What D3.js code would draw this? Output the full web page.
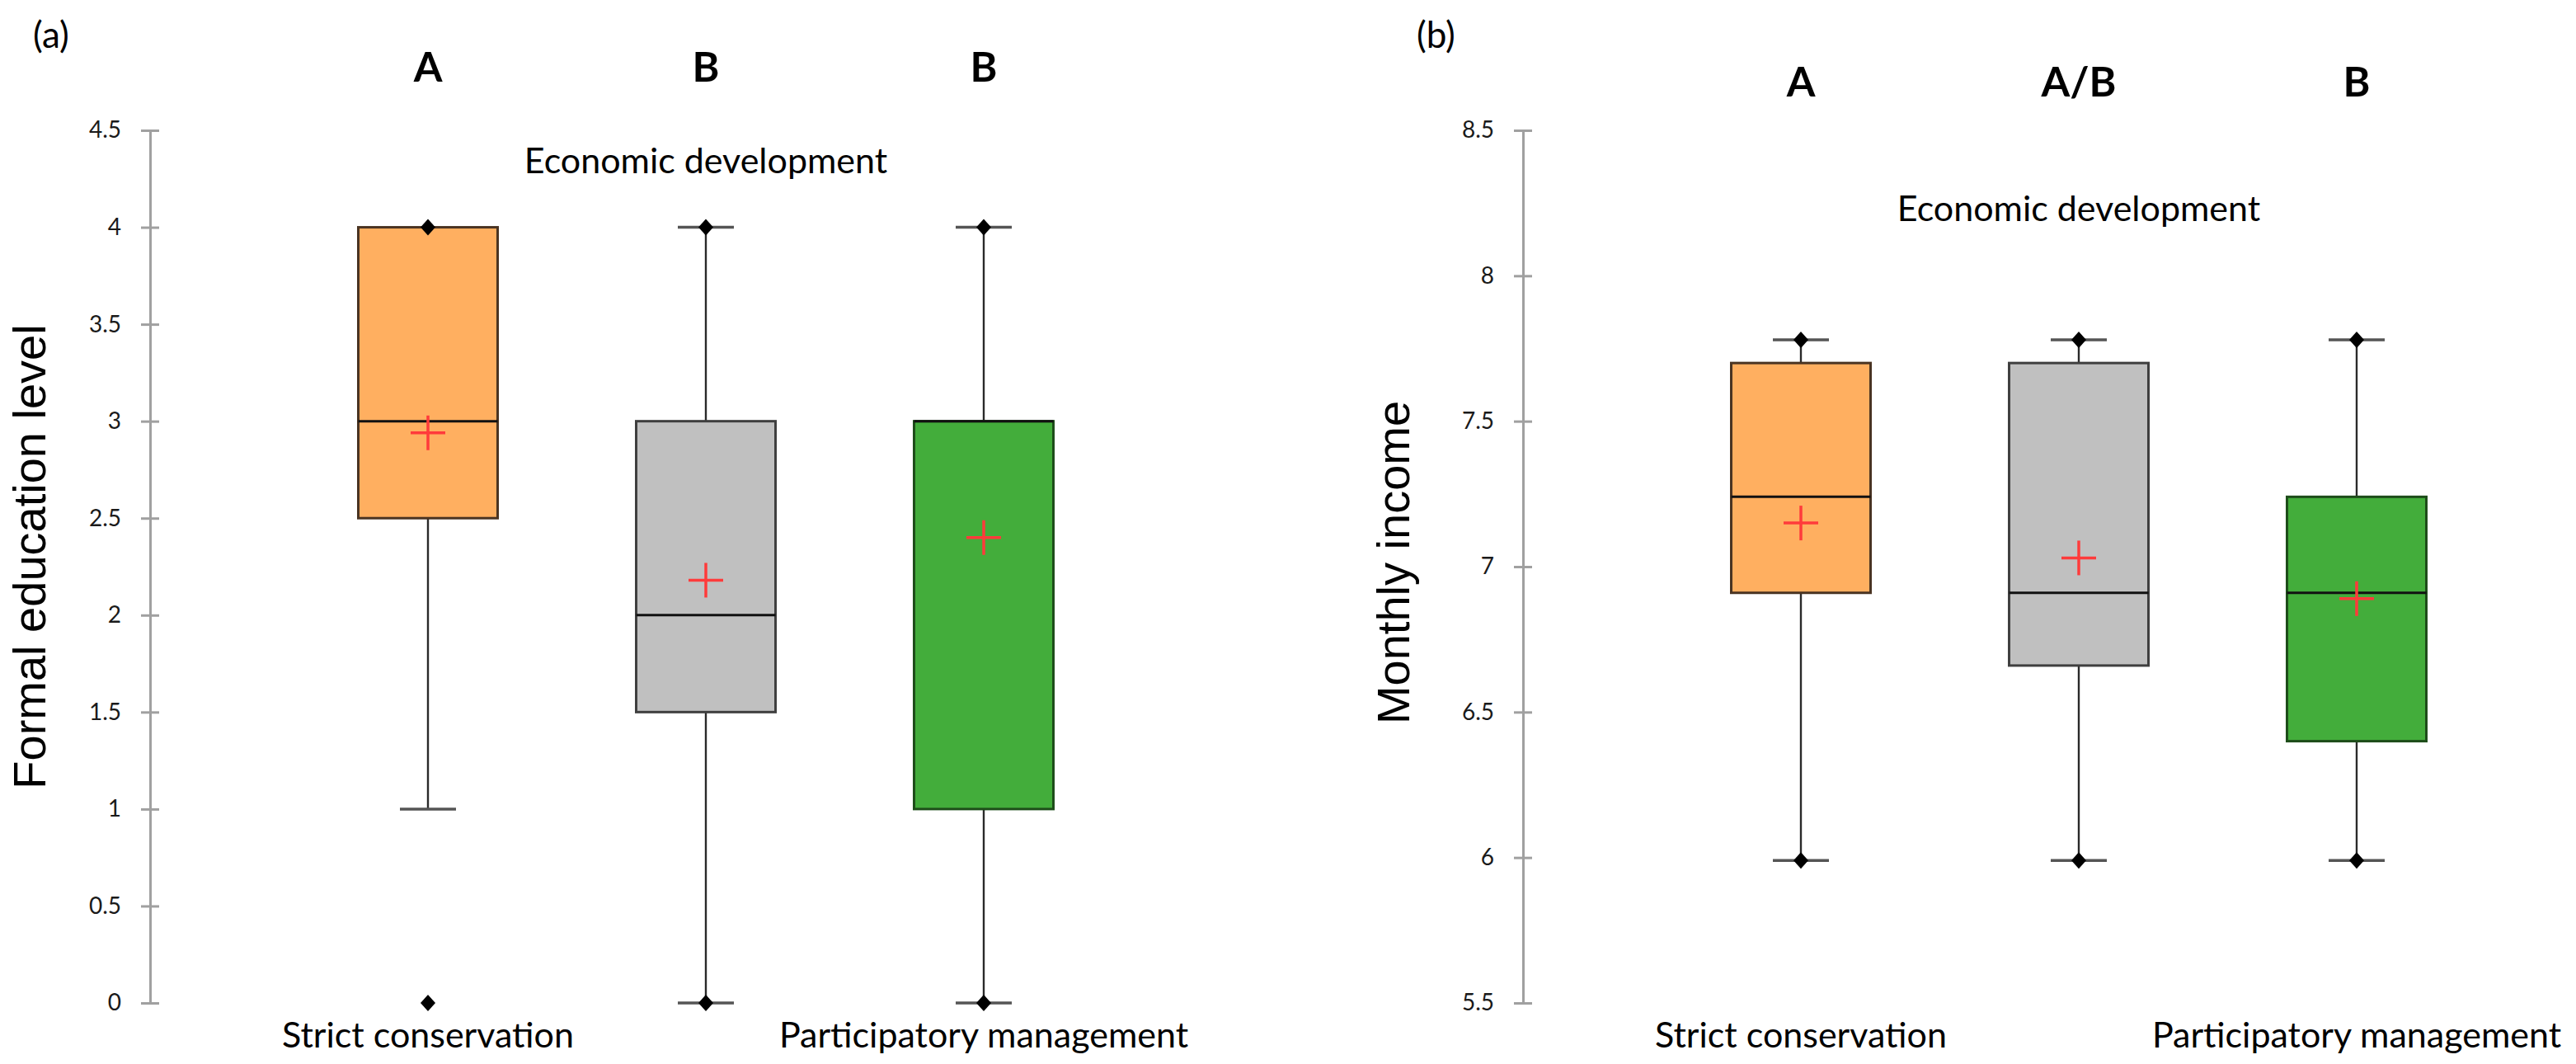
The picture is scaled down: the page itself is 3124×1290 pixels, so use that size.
<!DOCTYPE html>
<html>
<head>
<meta charset="utf-8">
<script src="https://cdn.jsdelivr.net/npm/d3@7"></script>
<style>
  html, body { margin: 0; padding: 0; background: #ffffff; }
  svg { display: block; }
</style>
</head>
<body>
<svg id="chart" width="3124" height="1290"></svg>
<script>
// ---------------- DATA ----------------
const categories = ["Strict conservation", "Economic development", "Participatory management"];

// Panel (a): Formal education level
const eduTicks = [0, 0.5, 1, 1.5, 2, 2.5, 3, 3.5, 4, 4.5];
const eduLetters = ["A", "B", "B"];
const eduMin = [0, 0, 0];
const eduWhiskerLow = [1, 0, 0];
const eduQ1 = [2.5, 1.5, 1];
const eduMedian = [3, 2, 3];
const eduQ3 = [4, 3, 3];
const eduWhiskerHigh = [4, 4, 4];
const eduMax = [4, 4, 4];
const eduMean = [2.94, 2.18, 2.40];

// Panel (b): Monthly income
const incTicks = [5.5, 6, 6.5, 7, 7.5, 8, 8.5];
const incLetters = ["A", "A/B", "B"];
const incMin = [5.99, 5.99, 5.99];
const incWhiskerLow = [5.99, 5.99, 5.99];
const incQ1 = [6.91, 6.66, 6.40];
const incMedian = [7.24, 6.91, 6.91];
const incQ3 = [7.70, 7.70, 7.24];
const incWhiskerHigh = [7.78, 7.78, 7.78];
const incMax = [7.78, 7.78, 7.78];
const incMean = [7.15, 7.03, 6.89];

// ---------------- STYLE ----------------
const fills = ["#FFAF60", "#C0C0C0", "#43AD3B"];
const strokes = ["#4a3422", "#3f3f3f", "#1e4d1a"];
const calibriLike = "Lato, 'Open Sans', sans-serif";
const arialLike = "'Liberation Sans', Arial, sans-serif";

const panels = [
  { axisX: 182, domain: [0, 4.5], ticks: eduTicks, letters: eduLetters,
    min: eduMin, wl: eduWhiskerLow, q1: eduQ1, med: eduMedian, q3: eduQ3, wh: eduWhiskerHigh, max: eduMax, mean: eduMean,
    title: "Formal education level", titleX: 55, titleY: 675,
    tag: "(a)", tagX: 40, tagY: 58, letterY: 99, topLabelY: 210, bottomLabelY: 1270 },
  { axisX: 1847, domain: [5.5, 8.5], ticks: incTicks, letters: incLetters,
    min: incMin, wl: incWhiskerLow, q1: incQ1, med: incMedian, q3: incQ3, wh: incWhiskerHigh, max: incMax, mean: incMean,
    title: "Monthly income", titleX: 1709, titleY: 682,
    tag: "(b)", tagX: 1718, tagY: 58, letterY: 117, topLabelY: 268, bottomLabelY: 1270 }
];

const svg = d3.select("#chart");
svg.append("rect").attr("width", 3124).attr("height", 1290).attr("fill", "#ffffff");

const yTop = 158, yBottom = 1216;
const step = 337, boxW = 169, capW = 68, plusL = 42, dW = 9, dH = 10;

panels.forEach(p => {
  const g = svg.append("g");
  const y = d3.scaleLinear().domain(p.domain).range([yBottom, yTop]);
  const x = d3.scalePoint().domain(categories).range([p.axisX + step, p.axisX + 3 * step]);

  // y axis
  const axis = d3.axisLeft(y).tickValues(p.ticks).tickSizeInner(11).tickSizeOuter(0).tickPadding(24)
    .tickFormat(d3.format(""));
  const ag = g.append("g").attr("transform", `translate(${p.axisX},0)`).call(axis);
  ag.select(".domain").attr("stroke", "#a0a0a0").attr("stroke-width", 3);
  ag.selectAll(".tick line").attr("stroke", "#a0a0a0").attr("stroke-width", 3).attr("x2", -11);
  ag.selectAll(".tick").append("line").attr("x1", 0).attr("x2", 11).attr("stroke", "#a0a0a0").attr("stroke-width", 3);
  ag.selectAll(".tick text").attr("font-family", calibriLike).attr("font-size", 28).attr("fill", "#1a1a1a");

  // y title
  g.append("text").attr("transform", `translate(${p.titleX},${p.titleY}) rotate(-90)`)
    .attr("text-anchor", "middle").attr("font-family", arialLike).attr("font-size", 56).attr("fill", "#000")
    .text(p.title);

  // panel tag
  g.append("text").attr("x", p.tagX).attr("y", p.tagY).attr("font-family", calibriLike)
    .attr("font-size", 44).attr("fill", "#000").text(p.tag);

  // category labels (staggered)
  categories.forEach((c, i) => {
    g.append("text").attr("x", x(c)).attr("y", i === 1 ? p.topLabelY : p.bottomLabelY)
      .attr("text-anchor", "middle").attr("font-family", calibriLike).attr("font-size", 43).attr("fill", "#000")
      .text(c);
    g.append("text").attr("x", x(c)).attr("y", p.letterY)
      .attr("text-anchor", "middle").attr("font-family", calibriLike).attr("font-weight", 700)
      .attr("font-size", 50).attr("fill", "#000").text(p.letters[i]);
  });

  // boxes
  categories.forEach((c, i) => {
    const cx = x(c);
    const bg = g.append("g");
    // whiskers
    if (p.wh[i] > p.q3[i]) {
      bg.append("line").attr("x1", cx).attr("x2", cx).attr("y1", y(p.q3[i])).attr("y2", y(p.wh[i]))
        .attr("stroke", "#2a2a2a").attr("stroke-width", 2.4);
      bg.append("line").attr("x1", cx - capW / 2).attr("x2", cx + capW / 2).attr("y1", y(p.wh[i])).attr("y2", y(p.wh[i]))
        .attr("stroke", "#555").attr("stroke-width", 3.5);
    }
    if (p.wl[i] < p.q1[i]) {
      bg.append("line").attr("x1", cx).attr("x2", cx).attr("y1", y(p.q1[i])).attr("y2", y(p.wl[i]))
        .attr("stroke", "#2a2a2a").attr("stroke-width", 2.4);
      bg.append("line").attr("x1", cx - capW / 2).attr("x2", cx + capW / 2).attr("y1", y(p.wl[i])).attr("y2", y(p.wl[i]))
        .attr("stroke", "#555").attr("stroke-width", 3.5);
    }
    // box
    bg.append("rect").attr("x", cx - boxW / 2).attr("y", y(p.q3[i])).attr("width", boxW)
      .attr("height", y(p.q1[i]) - y(p.q3[i])).attr("fill", fills[i]).attr("stroke", strokes[i]).attr("stroke-width", 3);
    // median
    bg.append("line").attr("x1", cx - boxW / 2).attr("x2", cx + boxW / 2).attr("y1", y(p.med[i])).attr("y2", y(p.med[i]))
      .attr("stroke", "#111").attr("stroke-width", 3);
    // min / max diamonds
    [p.min[i], p.max[i]].forEach(v => {
      const yy = y(v);
      const path = d3.path();
      path.moveTo(cx, yy - dH); path.lineTo(cx + dW, yy); path.lineTo(cx, yy + dH); path.lineTo(cx - dW, yy); path.closePath();
      bg.append("path").attr("d", path.toString()).attr("fill", "#000");
    });
    // mean plus
    const ym = y(p.mean[i]);
    bg.append("line").attr("x1", cx - plusL / 2).attr("x2", cx + plusL / 2).attr("y1", ym).attr("y2", ym)
      .attr("stroke", "#FF3B3B").attr("stroke-width", 3.5);
    bg.append("line").attr("x1", cx).attr("x2", cx).attr("y1", ym - plusL / 2).attr("y2", ym + plusL / 2)
      .attr("stroke", "#FF3B3B").attr("stroke-width", 3.5);
  });
});
</script>
</body>
</html>
